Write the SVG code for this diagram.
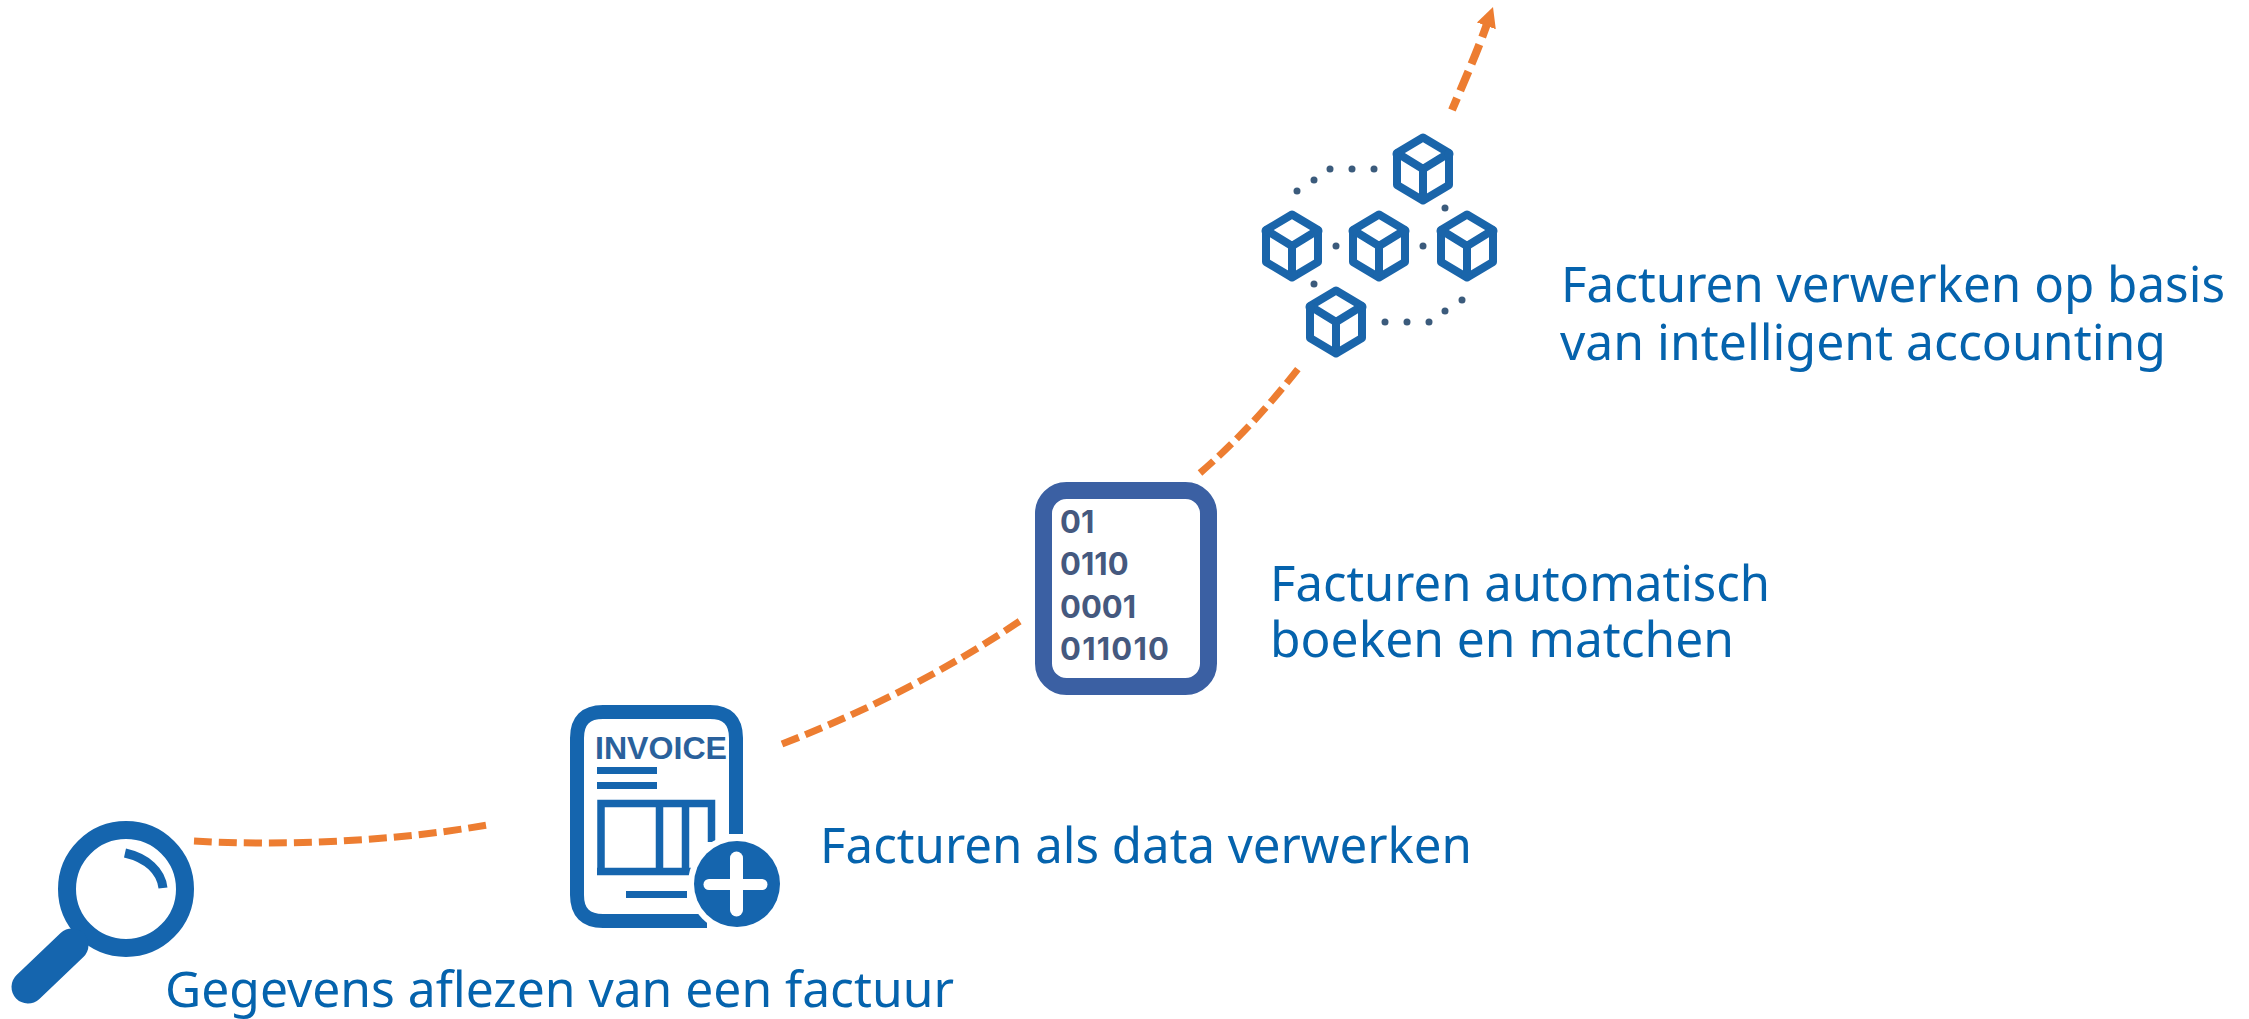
<svg xmlns="http://www.w3.org/2000/svg" width="2249" height="1019" viewBox="0 0 2249 1019">
<style>
.lbl{font-family:"Noto Sans","Open Sans","Liberation Sans",sans-serif;font-size:49px;fill:#0563ad}
.dash{fill:none;stroke:#ed7d31;stroke-width:7;stroke-dasharray:18 7}
.blue{fill:#1565ae}
.dot{fill:#3b5b7c}
.cube{fill:none;stroke:#1a65aa;stroke-width:8;stroke-linejoin:round}
.bin{font-family:Inter,"Liberation Sans",sans-serif;font-weight:700;font-size:31px;fill:#45597f}
</style>
<defs>
<g id="cube">
<path class="cube" d="M0-31.500L26-16V16L0 31.500L-26 16V-16Z"/>
<path class="cube" d="M-26-16L0 0L26-16M0 0V31.500"/>
<circle cx="0" cy="29" r="5.500" fill="#1a65aa"/>
<circle cx="-26" cy="-15" r="4.500" fill="#1a65aa"/>
<circle cx="26" cy="-15" r="4.500" fill="#1a65aa"/>
</g>
<marker id="head" markerUnits="userSpaceOnUse" markerWidth="24" markerHeight="24" refX="2" refY="11" orient="auto">
<path d="M0 1L20 11L0 21Z" fill="#ed7d31"/>
</marker>
</defs>
<rect width="2249" height="1019" fill="#fff"/>
<g id="connectors">
<path class="dash" d="M194 841C280 846 390 842 487 825"/>
<path class="dash" d="M782 744C870 710 950 668 1020 621"/>
<path class="dash" d="M1200 473C1237 441 1270 405 1301 365"/>
<path class="dash" style="stroke-width:8;stroke-dasharray:21 8" d="M1452 110C1463 84 1476 55 1487 24" stroke-dashoffset="8" marker-end="url(#head)"/>
</g>
<g id="node-search">
<circle cx="126" cy="889" r="59" fill="none" stroke="#1565ae" stroke-width="18"/>
<path d="M125 853C147 858 161 871 163 888" fill="none" stroke="#1565ae" stroke-width="9"/>
<path d="M72 945L28 987" fill="none" stroke="#1565ae" stroke-width="33" stroke-linecap="round"/>
<text class="lbl" x="165" y="1007" textLength="789" lengthAdjust="spacingAndGlyphs">Gegevens aflezen van een factuur</text>
</g>
<g id="node-invoice">
<path d="M736 834V738Q736 712 710 712H603Q577 712 577 738V895Q577 921 603 921H707" fill="none" stroke="#1565ae" stroke-width="14"/>
<text x="595" y="759" textLength="132" lengthAdjust="spacingAndGlyphs" style="font-family:'Liberation Sans',sans-serif;font-weight:bold;font-size:31px;fill:#2a619c">INVOICE</text>
<rect x="597" y="767" width="60" height="7" class="blue"/>
<rect x="597" y="782" width="60" height="7" class="blue"/>
<path d="M601 871.500V803.500H711.500V842M659.500 803V872M685.500 803V872M597 871.500H700" fill="none" stroke="#1565ae" stroke-width="7.500"/>
<rect x="626" y="891" width="61" height="7" class="blue"/>
<circle cx="737" cy="884" r="49" fill="#fff"/>
<circle cx="737" cy="884" r="43" class="blue"/>
<path d="M709 884.500H762" fill="none" stroke="#fff" stroke-width="11" stroke-linecap="round"/>
<path d="M736.500 858V910" fill="none" stroke="#fff" stroke-width="13" stroke-linecap="round"/>
<text class="lbl" x="820" y="863" textLength="652" lengthAdjust="spacingAndGlyphs">Facturen als data verwerken</text>
</g>
<g id="node-binary">
<rect x="1043.500" y="490.500" width="165" height="196" rx="23" fill="#fff" stroke="#3b60a3" stroke-width="17"/>
<text class="bin" x="1060" y="533">01</text>
<text class="bin" x="1060" y="575">0110</text>
<text class="bin" x="1060" y="618">0001</text>
<text class="bin" x="1060" y="660" textLength="109">011010</text>
<text class="lbl" x="1270" y="601" textLength="500" lengthAdjust="spacingAndGlyphs">Facturen automatisch</text>
<text class="lbl" x="1270" y="657" textLength="464" lengthAdjust="spacingAndGlyphs">boeken en matchen</text>
</g>
<g id="node-blockchain">
<use href="#cube" x="1423" y="169"/>
<use href="#cube" x="1292" y="246"/>
<use href="#cube" x="1379" y="246"/>
<use href="#cube" x="1467" y="246"/>
<use href="#cube" x="1336" y="322"/>
<g class="dot">
<circle cx="1297" cy="191" r="3.500"/><circle cx="1314" cy="180" r="3.500"/><circle cx="1330" cy="169" r="3.500"/><circle cx="1352" cy="169" r="3.500"/><circle cx="1374" cy="169" r="3.500"/>
<circle cx="1445" cy="208" r="3.500"/><circle cx="1336" cy="246" r="3.500"/><circle cx="1423" cy="246" r="3.500"/><circle cx="1314" cy="284" r="3.500"/>
<circle cx="1385" cy="322" r="3.500"/><circle cx="1407" cy="322" r="3.500"/><circle cx="1429" cy="322" r="3.500"/><circle cx="1445" cy="311" r="3.500"/><circle cx="1462" cy="300" r="3.500"/>
</g>
<text class="lbl" x="1561" y="302" textLength="664" lengthAdjust="spacingAndGlyphs">Facturen verwerken op basis</text>
<text class="lbl" x="1560" y="360" textLength="606" lengthAdjust="spacingAndGlyphs">van intelligent accounting</text>
</g>
</svg>
